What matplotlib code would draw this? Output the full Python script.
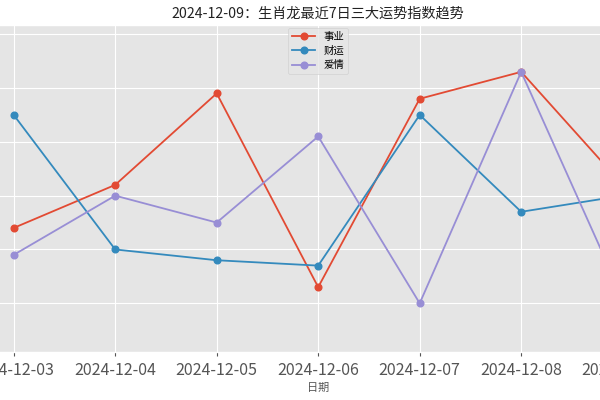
import matplotlib
matplotlib.use("Agg")
import matplotlib.pyplot as plt

dates = ["2024-12-03", "2024-12-04", "2024-12-05", "2024-12-06",
         "2024-12-07", "2024-12-08", "2024-12-09"]
career = [64, 72, 89, 53, 88, 93, 72]
wealth = [85, 60, 58, 57, 85, 67, 70]
love = [59, 70, 65, 81, 50, 93, 51]

plt.style.use("ggplot")
plt.rcParams["font.family"] = ["Noto Sans CJK SC", "DejaVu Sans"]
plt.rcParams["axes.unicode_minus"] = False

fig = plt.figure(figsize=(6, 4), dpi=100)
# axes is wider than the figure, the picture is cropped on both sides
ax = fig.add_axes([-16.75 / 600, 48 / 400, 669.9 / 600, 327.5 / 400])

x = list(range(len(dates)))
ax.plot(x, career, marker="o", markersize=4.8, linewidth=1.3, label="事业")
ax.plot(x, wealth, marker="o", markersize=4.8, linewidth=1.3, label="财运")
ax.plot(x, love, marker="o", markersize=4.8, linewidth=1.3, label="爱情")

ax.set_xlim(-0.3, 6.3)
ax.set_ylim(40.95, 101.8)
ax.set_yticks([50, 60, 70, 80, 90, 100])
ax.tick_params(axis="y", labelleft=False, length=0)
ax.set_xticks(x)
ax.set_xticklabels(dates, fontsize=11.5, color="#555555")
ax.tick_params(axis="x", length=3, pad=4)

ax.set_xlabel("日期", fontsize=8, color="#555555", labelpad=3)
ax.set_title("2024-12-09：生肖龙最近7日三大运势指数趋势", fontsize=10.2,
             color="#222222", pad=5)
ax.legend(loc="upper center", fontsize=7.5, handlelength=2.2,
          borderaxespad=0.3, labelspacing=0.4)

fig.savefig("out.png", dpi=100)
